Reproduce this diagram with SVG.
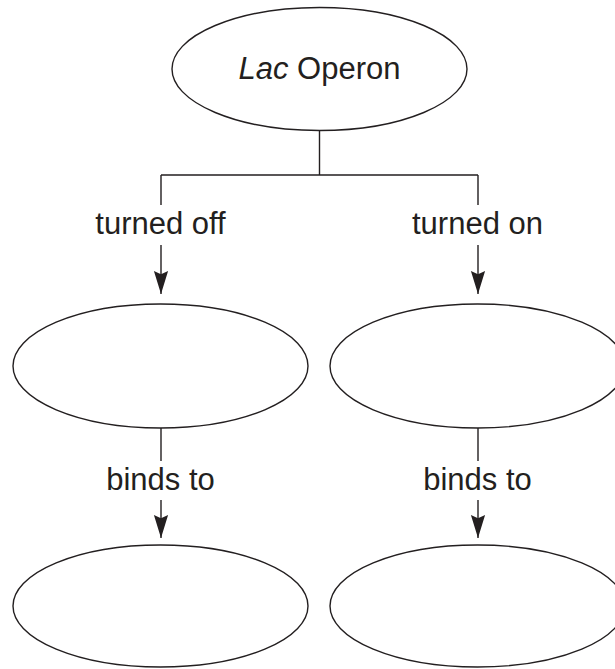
<svg xmlns="http://www.w3.org/2000/svg" width="615" height="669" viewBox="0 0 615 669">
<style>
.node{fill:#fff;stroke:#231f20;stroke-width:1.4}
.conn{fill:none;stroke:#231f20;stroke-width:1.4}
text{font-family:"Liberation Sans",Arial,sans-serif;font-size:31px;fill:#231f20;text-anchor:middle}
.lbl{font-size:31px}
</style>
<defs>
<marker id="ah" markerUnits="userSpaceOnUse" markerWidth="24" markerHeight="16" viewBox="0 0 22 14" refX="21" refY="7" orient="auto">
<path d="M0,0.5 L3,7 L0,13.5 L21,7 Z" fill="#231f20"/>
</marker>
</defs>
<rect width="615" height="669" fill="#fff"/>
<g id="connectors">
<path class="conn" d="M319.5,131 V175 M161,175 H478 M161,175 V205 M478,175 V205"/>
<path class="conn" d="M161,245 V294" marker-end="url(#ah)"/>
<path class="conn" d="M478,245 V294" marker-end="url(#ah)"/>
<path class="conn" d="M161,428 V461"/>
<path class="conn" d="M478,428 V461"/>
<path class="conn" d="M161,500 V538" marker-end="url(#ah)"/>
<path class="conn" d="M478,500 V538" marker-end="url(#ah)"/>
<text class="lbl" x="160.5" y="234">turned off</text>
<text class="lbl" x="477.5" y="234">turned on</text>
<text class="lbl" x="160.5" y="490">binds to</text>
<text class="lbl" x="477.5" y="490">binds to</text>
</g>
<g id="lac-operon">
<ellipse class="node" cx="319.5" cy="69" rx="147.5" ry="61.5"/>
<text x="319.5" y="78.5"><tspan font-style="italic">Lac</tspan> Operon</text>
</g>
<g id="off-state">
<ellipse class="node" cx="160.5" cy="366" rx="147.5" ry="62"/>
</g>
<g id="on-state">
<ellipse class="node" cx="477.5" cy="366" rx="147.5" ry="62"/>
</g>
<g id="off-target">
<ellipse class="node" cx="160.5" cy="606" rx="147.5" ry="61"/>
</g>
<g id="on-target">
<ellipse class="node" cx="477.5" cy="606" rx="147.5" ry="61"/>
</g>
</svg>
